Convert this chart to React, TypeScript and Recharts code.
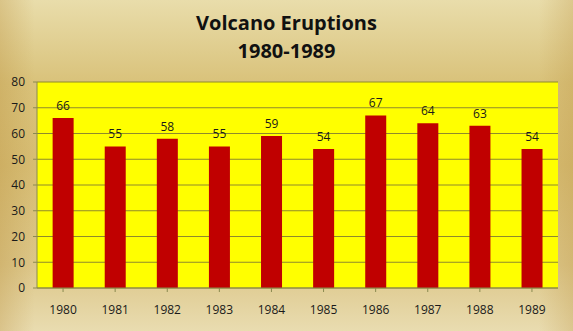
import { BarChart, Bar, XAxis, YAxis, CartesianGrid, LabelList } from "recharts";

const years = ["1980", "1981", "1982", "1983", "1984", "1985", "1986", "1987", "1988", "1989"];
const eruptions = [66, 55, 58, 55, 59, 54, 67, 64, 63, 54];
const yTicks = [0, 10, 20, 30, 40, 50, 60, 70, 80];

const data = years.map((year, i) => ({ year, eruptions: eruptions[i] }));

const font = "'Open Sans', 'Liberation Sans', sans-serif";
const tickStyle = { fontSize: 12, fill: "#1a1a1a", fontFamily: font };

export default function App() {
  return (
    <div
      style={{
        position: "absolute",
        left: 0,
        top: 0,
        width: 573,
        height: 331,
        background:
          "linear-gradient(90deg, rgba(190,150,70,0.35) 0%, rgba(190,150,70,0) 6%, rgba(190,150,70,0) 94%, rgba(190,150,70,0.3) 100%), linear-gradient(180deg, #e9ddab 0%, #d9c27a 25%, #d6bc72 50%, #dcc688 80%, #e9dcb0 100%)",
        overflow: "hidden",
      }}
    >
      <div
        style={{
          position: "absolute",
          left: 0,
          width: 573,
          top: 9,
          textAlign: "center",
          fontFamily: font,
          fontWeight: "bold",
          fontSize: 20,
          lineHeight: "28px",
          color: "#111",
        }}
      >
        <div>Volcano Eruptions</div>
        <div>1980-1989</div>
      </div>
      <BarChart
        width={573}
        height={331}
        data={data}
        margin={{ top: 82, right: 15, bottom: 13, left: 0 }}
        barCategoryGap="30%"
        style={{ position: "absolute", left: 0, top: 0 }}
      >
        <CartesianGrid vertical={false} stroke="#8f8a2c" fill="#ffff00" />
        <XAxis
          dataKey="year"
          tick={tickStyle}
          axisLine={{ stroke: "#8a8a50" }}
          tickLine={{ stroke: "#8a8a50" }}
          tickSize={4}
          tickMargin={13}
          height={30}
        />
        <YAxis
          domain={[0, 80]}
          ticks={yTicks}
          tick={tickStyle}
          axisLine={{ stroke: "#8a8a50" }}
          tickLine={{ stroke: "#8a8a50" }}
          tickSize={4}
          tickMargin={8}
          width={37}
          interval={0}
        />
        <Bar dataKey="eruptions" fill="#c00000" isAnimationActive={false}>
          <LabelList dataKey="eruptions" position="top" offset={8} style={{ fontSize: 12, fill: "#1a1a1a", fontFamily: font }} />
        </Bar>
      </BarChart>
    </div>
  );
}
